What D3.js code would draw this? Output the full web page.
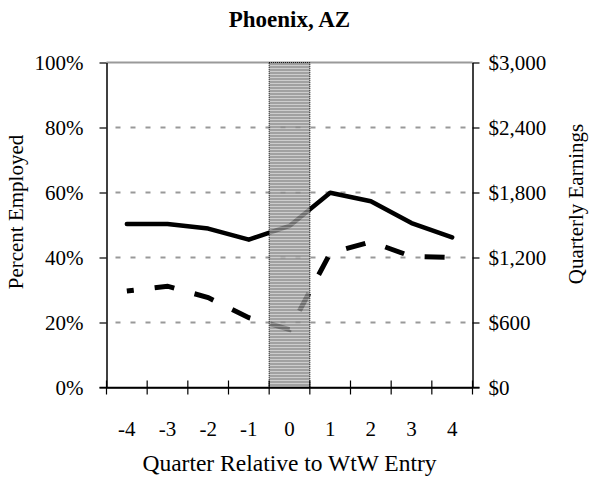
<!DOCTYPE html>
<html><head><meta charset="utf-8">
<script src="https://cdn.jsdelivr.net/npm/d3@7"></script>
<style>body{margin:0;background:#fff}svg{display:block}text{font-family:"Liberation Serif","Times New Roman",serif;fill:#000}</style>
</head><body>
<script>
const quarters = ["-4","-3","-2","-1","0","1","2","3","4"];
const percentEmployed = [0.503, 0.503, 0.489, 0.455, 0.497, 0.599, 0.573, 0.506, 0.462];
const quarterlyEarnings = [890, 935, 830, 645, 535, 1240, 1345, 1210, 1200];
const leftTicks = [0, 0.2, 0.4, 0.6, 0.8, 1.0];
const rightTicks = [0, 600, 1200, 1800, 2400, 3000];
const entryQuarter = "0";

const W = 590, H = 481;
const m = {left: 106.5, right: 472.5, top: 62.5, bottom: 387.5};
const svg = d3.select("body").append("svg").attr("width", W).attr("height", H);

const x = d3.scaleBand().domain(quarters).range([m.left, m.right]).padding(0);
const yL = d3.scaleLinear().domain([0, 1]).range([m.bottom, m.top]);
const yR = d3.scaleLinear().domain([0, 3000]).range([m.bottom, m.top]);

// pattern for shaded band
const defs = svg.append("defs");
const pat = defs.append("pattern").attr("id","hstripe").attr("patternUnits","userSpaceOnUse")
  .attr("width", 4).attr("height", 3);
pat.append("rect").attr("width",4).attr("height",3).attr("fill","#8a8a8a");
pat.append("rect").attr("y",2).attr("width",4).attr("height",1).attr("fill","#c0c0c0");

// gridlines
svg.append("g").selectAll("line").data(leftTicks.filter(d => d > 0 && d < 1)).join("line")
  .attr("x1", m.left).attr("x2", m.right)
  .attr("y1", d => yL(d)).attr("y2", d => yL(d))
  .attr("stroke", "#999").attr("stroke-width", 2).attr("stroke-dasharray", "5,10").attr("stroke-dashoffset", -9);
svg.append("line").attr("x1", m.left).attr("x2", m.right).attr("y1", yL(1)).attr("y2", yL(1))
  .attr("stroke", "#9a9a9a").attr("stroke-width", 2);

// lines
const lineL = d3.line().x((d,i) => x(quarters[i]) + x.bandwidth()/2).y(d => yL(d));
const lineR = d3.line().x((d,i) => x(quarters[i]) + x.bandwidth()/2).y(d => yR(d));
svg.append("path").datum(quarterlyEarnings).attr("d", lineR).attr("fill","none")
  .attr("stroke","#000").attr("stroke-width",5).attr("stroke-dasharray","20,21").attr("stroke-dashoffset", 13);
svg.append("path").datum(percentEmployed).attr("d", lineL).attr("fill","none")
  .attr("stroke","#000").attr("stroke-width",4.5).attr("stroke-linejoin","round").attr("stroke-linecap","round");

// shaded band over lines
svg.append("rect").attr("x", x(entryQuarter)).attr("width", x.bandwidth())
  .attr("y", m.top).attr("height", m.bottom - m.top)
  .attr("fill","url(#hstripe)").attr("opacity", 0.8);
svg.append("rect").attr("x", x(entryQuarter)).attr("width", x.bandwidth())
  .attr("y", m.top).attr("height", m.bottom - m.top)
  .attr("fill","none").attr("stroke","#000").attr("stroke-width",1).attr("stroke-dasharray","1,1");

// left axis
const gL = svg.append("g").attr("transform", `translate(${m.left},0)`)
  .call(d3.axisLeft(yL).tickValues(leftTicks).tickFormat(d3.format(".0%")).tickSize(7).tickSizeOuter(0).tickPadding(16));
// right axis
const gR = svg.append("g").attr("transform", `translate(${m.right},0)`)
  .call(d3.axisRight(yR).tickValues(rightTicks).tickFormat(d => "$" + d3.format(",")(d)).tickSize(7).tickSizeOuter(0).tickPadding(9));
// bottom axis labels
const gB = svg.append("g").attr("transform", `translate(0,${m.bottom})`)
  .call(d3.axisBottom(x).tickSize(0).tickPadding(34));
[gL, gR, gB].forEach(g => {
  g.selectAll("text").style("font-family", '"Liberation Serif", serif').style("font-size", "21px").attr("fill","#000");
  g.select(".domain").attr("stroke","#000").attr("stroke-width",1.5);
  g.selectAll(".tick line").attr("stroke","#000").attr("stroke-width",1.2);
});
// bottom crossing ticks at band boundaries
const bounds = quarters.map(q => x(q)).concat([x.range()[1]]);
svg.append("g").selectAll("line").data(bounds).join("line")
  .attr("x1", d => d).attr("x2", d => d).attr("y1", m.bottom - 7).attr("y2", m.bottom + 7)
  .attr("stroke","#000").attr("stroke-width",1.2);
svg.append("line").attr("x1", m.left - 7).attr("x2", m.right + 7).attr("y1", m.bottom).attr("y2", m.bottom)
  .attr("stroke","#000").attr("stroke-width",1.5);

// titles
svg.append("text").attr("x", (m.left + m.right)/2).attr("y", 27).attr("text-anchor","middle")
  .style("font-size","23px").style("font-weight","bold").text("Phoenix, AZ");
svg.append("text").attr("x", (m.left + m.right)/2).attr("y", 471).attr("text-anchor","middle")
  .style("font-size","23.5px").text("Quarter Relative to WtW Entry");
svg.append("text").attr("transform","translate(23,212) rotate(-90)").attr("text-anchor","middle")
  .style("font-size","21px").text("Percent Employed");
svg.append("text").attr("transform","translate(583,204) rotate(-90)").attr("text-anchor","middle")
  .style("font-size","21px").text("Quarterly Earnings");
</script>
</body></html>
